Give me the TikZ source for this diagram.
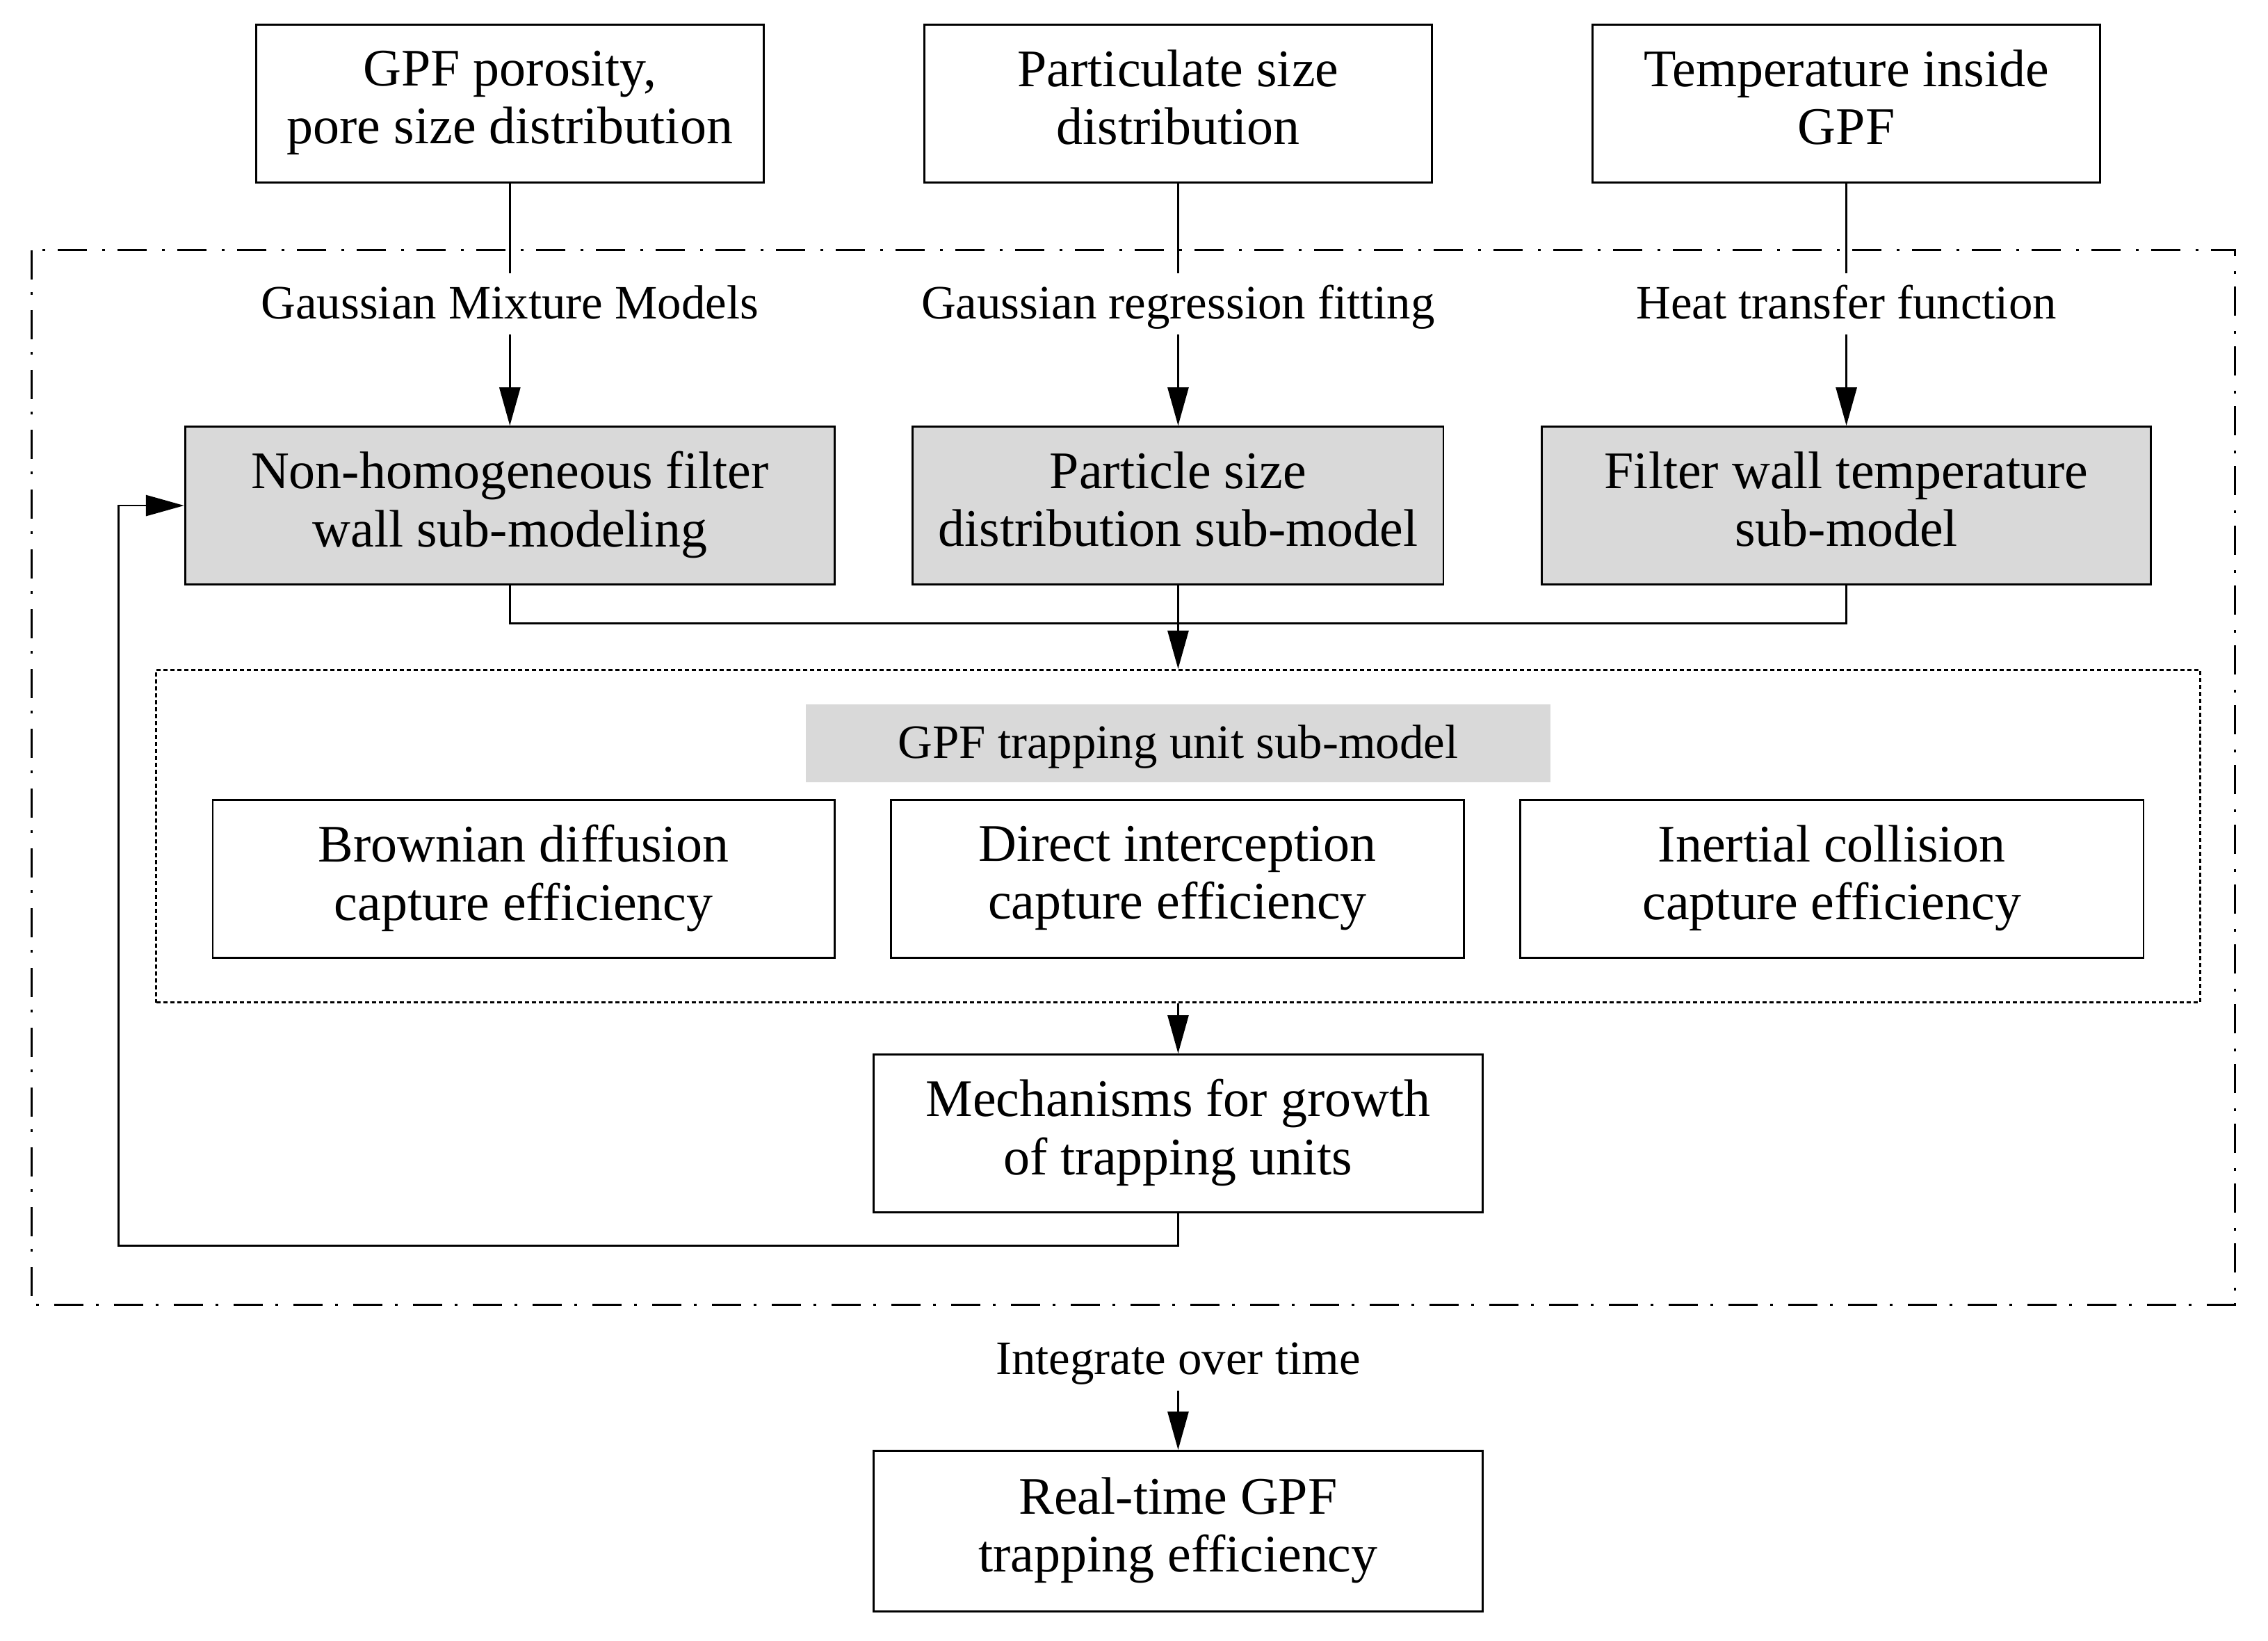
\documentclass[tikz,border=0pt]{standalone}
\usepackage{fontspec}
\setmainfont{Liberation Serif}
\usetikzlibrary{arrows.meta}
\newcommand{\boxstrut}{\rule[-0.22\baselineskip]{0pt}{0.97\baselineskip}}

\begin{document}
\begin{tikzpicture}[x=0.020804cm, y=-0.020804cm, line width=0.8pt,
        >={Triangle[length=0.55cm, width=0.3cm]}]
        \tikzstyle{every node}=[align=center, font=\fontsize{21.6}{23.7}\selectfont,
                                execute at begin node=\boxstrut, execute at end node=\boxstrut]
        \tikzstyle{input}=[draw, minimum width=7.30cm, minimum height=2.27cm]
        \tikzstyle{submodel}=[draw, fill=black!15, minimum height=2.27cm]
        \tikzstyle{unit}=[draw, minimum height=2.27cm]
        \tikzstyle{method}=[font=\fontsize{19.6}{23}\selectfont, minimum height=0.855cm, inner sep=1pt]

        \useasboundingbox (0,0) rectangle (1568,1134.4);

        % inputs
        \node (in1) [input] at (352.5,71.5)  {GPF porosity,\\pore size distribution};
        \node (in2) [input] at (814.5,71.5)  {Particulate size\\distribution};
        \node (in3) [input] at (1276.5,71.5) {Temperature inside\\GPF};

        \draw[dash pattern=on 0.42cm off 0.18cm on 0.04cm off 0.22cm] (22,173) rectangle (1545,902);

        \node (m1) [method] at (352.5,210)  {Gaussian Mixture Models};
        \node (m2) [method] at (814.5,210)  {Gaussian regression fitting};
        \node (m3) [method] at (1276.5,210) {Heat transfer function};

        % sub-models
        \node (sub1) [submodel, minimum width=9.34cm] at (352.5,349.5)  {Non-homogeneous filter\\wall sub-modeling};
        \node (sub2) [submodel, minimum width=7.63cm] at (814.5,349.5)  {Particle size\\distribution sub-model};
        \node (sub3) [submodel, minimum width=8.76cm] at (1276.5,349.5) {Filter wall temperature\\sub-model};

        \foreach \i in {1,2,3} {
            \draw (in\i) -- (m\i);
            \draw[->] (m\i) -- (sub\i);
        }

        % trapping unit
        \node (trap) [draw, dash pattern=on 0.06cm off 0.04cm,
                      minimum width=29.39cm, minimum height=4.78cm] at (814.5,578) {};
        \node (traptitle) [fill=black!15, font=\fontsize{19.6}{23}\selectfont,
                      minimum width=10.71cm, minimum height=1.12cm] at (814.5,514) {GPF trapping unit sub-model};
        \node (u1) [unit, minimum width=8.94cm] at (362,607.5)    {Brownian diffusion\\capture efficiency};
        \node (u2) [unit, minimum width=8.24cm] at (814,607.5)    {Direct interception\\capture efficiency};
        \node (u3) [unit, minimum width=8.96cm] at (1266.5,607.5) {Inertial collision\\capture efficiency};

        \coordinate (join) at (814.5,431);
        \draw (sub1.south) |- (join) -| (sub3.south);
        \draw[->] (sub2.south) -- (trap.north);

        \node (growth) [unit, minimum width=8.76cm] at (814.5,783.5) {Mechanisms for growth\\of trapping units};
        \draw[->] (trap.south) -- (growth.north);

        \coordinate (back) at (82,861);
        \draw[->] (growth.south) |- (back) |- (sub1.west);

        % output
        \node (integ) [method] at (814.5,940) {Integrate over time};
        \node (out) [unit, minimum width=8.76cm, minimum height=2.31cm] at (814.5,1058.5) {Real-time GPF\\trapping efficiency};
        \draw[->] (integ) -- (out);
\end{tikzpicture}
\end{document}
